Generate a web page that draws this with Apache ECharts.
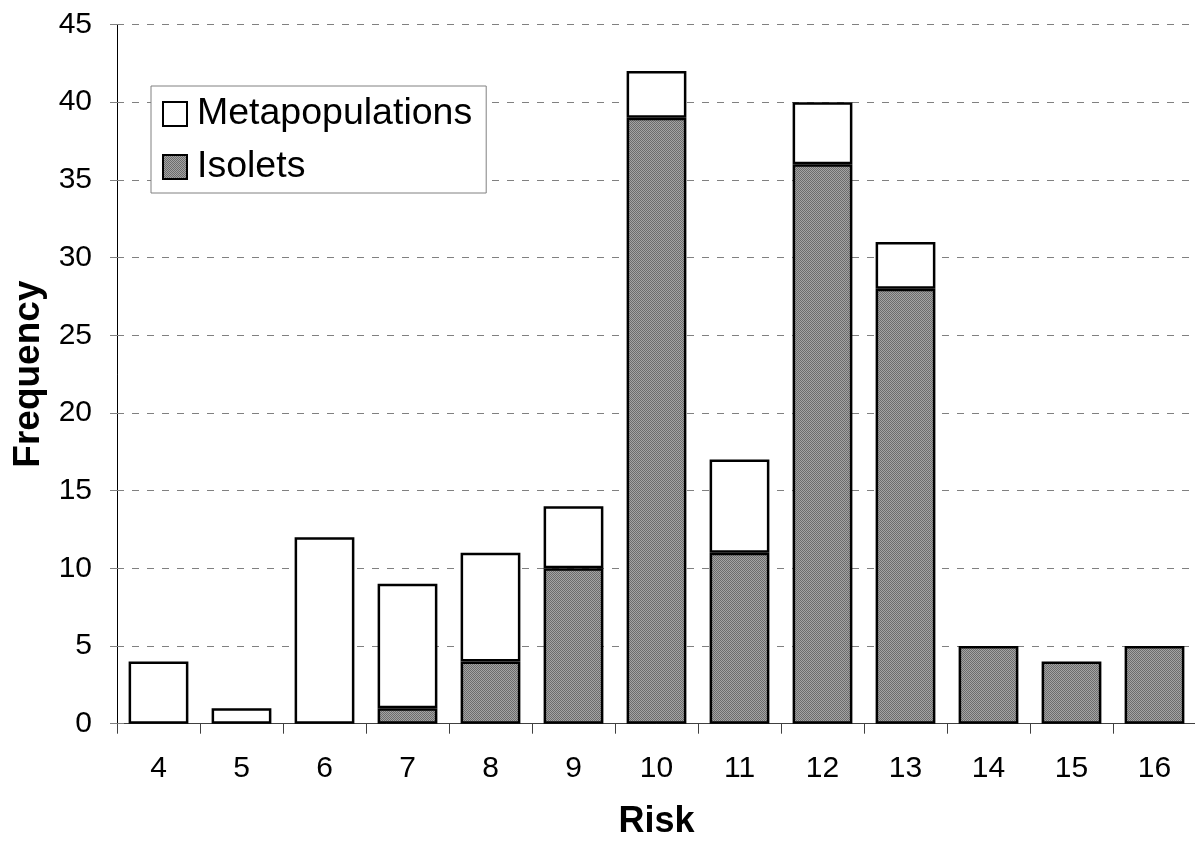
<!DOCTYPE html>
<html>
<head>
<meta charset="utf-8">
<script src="https://cdn.jsdelivr.net/npm/echarts@6/dist/echarts.min.js"></script>
<style>
html,body{margin:0;padding:0;background:#fff;}
#chart{width:1195px;height:842px;}
</style>
</head>
<body>
<div id="chart"></div>
<script>
const categories = ['4','5','6','7','8','9','10','11','12','13','14','15','16'];
const isolets = [0,0,0,1,4,10,39,11,36,28,5,4,5];
const metapopulations = [4,1,12,8,7,4,3,6,4,3,0,0,0];
const yTicks = {min:0, max:45, interval:5};

const FONT = '"Liberation Sans", Arial, sans-serif';

// gray dithered pattern
const pc = document.createElement('canvas');
pc.width = 2; pc.height = 2;
const pctx = pc.getContext('2d');
pctx.fillStyle = '#a4a4a4'; pctx.fillRect(0,0,2,2);
pctx.fillStyle = '#6c6c6c'; pctx.fillRect(0,0,1,1); pctx.fillRect(1,1,1,1);
const grayPattern = {image: pc, repeat: 'repeat'};

const nz = arr => arr.map(v => v === 0 ? null : v);

const chart = echarts.init(document.getElementById('chart'), null, {renderer:'canvas'});
const yBase = {
  type:'value', min:yTicks.min, max:yTicks.max, interval:yTicks.interval, position:'left'
};
chart.setOption({
  animation:false,
  backgroundColor:'#fff',
  grid:{left:117, top:24.5, width:1079, height:699.2, containLabel:false, outerBoundsMode:'none'},
  legend:{
    orient:'vertical', left:151, top:86,
    padding:[8,14,6,11],
    itemWidth:24, itemHeight:24, itemGap:13,
    icon:'rect',
    borderColor:'#808080', borderWidth:1, backgroundColor:'#fff',
    textStyle:{fontFamily:FONT, fontSize:37.5, color:'#000', lineHeight:40, padding:[0,0,0,5]},
    data:['Metapopulations','Isolets'],
    selectedMode:false
  },
  xAxis:{
    type:'category', data:categories, boundaryGap:true,
    name:'Risk', nameLocation:'middle', nameGap:80,
    nameTextStyle:{fontFamily:FONT, fontSize:36, fontWeight:'bold', color:'#000'},
    axisLine:{lineStyle:{color:'#404040', width:1}},
    axisTick:{show:true, length:10, inside:false, alignWithLabel:false, lineStyle:{color:'#404040'}},
    axisLabel:{fontFamily:FONT, fontSize:30, color:'#000', margin:30, lineHeight:30},
    splitLine:{show:false}
  },
  yAxis:[
    Object.assign({}, yBase, {
      name:'Frequency', nameLocation:'middle', nameGap:70, nameRotate:90,
      nameTextStyle:{fontFamily:FONT, fontSize:37, fontWeight:'bold', color:'#000'},
      axisLine:{show:true, lineStyle:{color:'#000', width:1}},
      axisTick:{show:true, length:7, inside:false, lineStyle:{color:'#808080'}},
      axisLabel:{fontFamily:FONT, fontSize:30, color:'#000', margin:25},
      splitLine:{show:true, lineStyle:{color:'#808080', width:1, type:[7,8]}}
    }),
    Object.assign({}, yBase, {
      offset:0,
      axisLine:{show:false},
      axisTick:{show:true, length:7, inside:true, lineStyle:{color:'#808080'}},
      axisLabel:{show:false},
      splitLine:{show:false}
    })
  ],
  series:[
    {
      name:'Isolets', type:'bar', stack:'total', yAxisIndex:0,
      data:nz(isolets), barWidth:'72%',
      itemStyle:{color:grayPattern, borderColor:'#000', borderWidth:2.5},
      z:2
    },
    {
      name:'Metapopulations', type:'bar', stack:'total', yAxisIndex:0,
      data:nz(metapopulations), barWidth:'72%',
      itemStyle:{color:'#fff', borderColor:'#000', borderWidth:2.5},
      z:2
    }
  ]
});
</script>
</body>
</html>
